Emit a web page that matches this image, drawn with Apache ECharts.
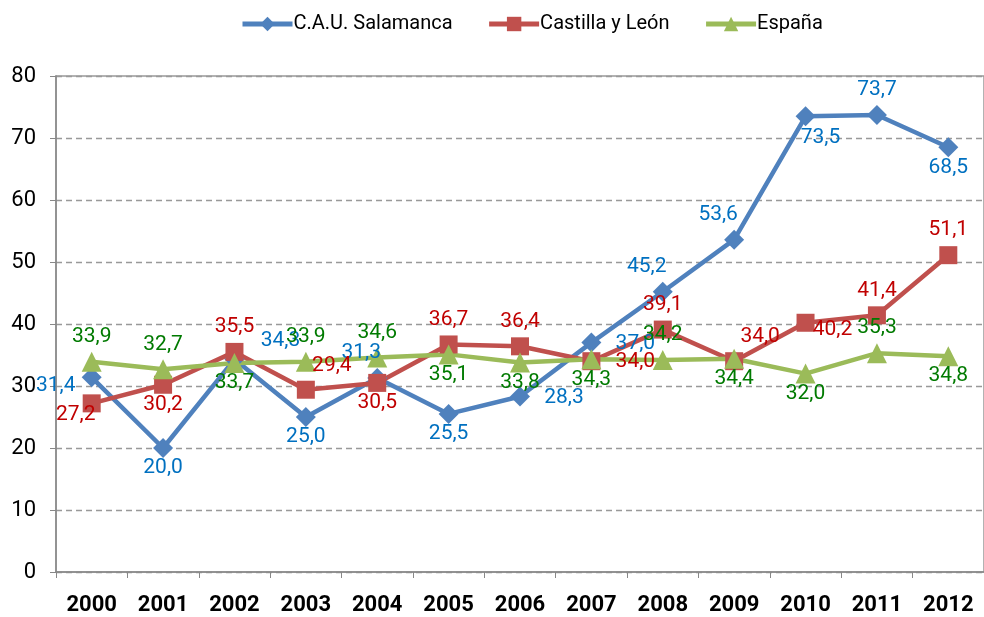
<!DOCTYPE html>
<html>
<head>
<meta charset="utf-8">
<script src="https://cdn.jsdelivr.net/npm/echarts@6/dist/echarts.min.js"></script>
<style>
  html, body { margin: 0; padding: 0; background: #fff; }
  #chart { width: 984px; height: 617px; }
</style>
</head>
<body>
<div id="chart"></div>
<script>
// años
const years = ['2000', '2001', '2002', '2003', '2004', '2005', '2006', '2007', '2008', '2009', '2010', '2011', '2012'];

const salamanca = [31.4, 20.0, 34.3, 25.0, 31.3, 25.5, 28.3, 37.0, 45.2, 53.6, 73.5, 73.7, 68.5];
const castilla  = [27.2, 30.2, 35.5, 29.4, 30.5, 36.7, 36.4, 34.0, 39.1, 34.0, 40.2, 41.4, 51.1];
const espana    = [33.9, 32.7, 33.7, 33.9, 34.6, 35.1, 33.8, 34.3, 34.2, 34.4, 32.0, 35.3, 34.8];

const yTicks = [0, 10, 20, 30, 40, 50, 60, 70, 80];

// dónde va cada etiqueta respecto a su punto
const salPos = ['lb', 'b', 'rt', 'b', 'tl', 'b', 'r', 'r', 'tl', 'tl', 'br', 't', 'b'];
const casPos = ['bl', 'b', 't', 'tr', 'b', 't', 't', 'r', 't', 'tr', 'rn', 't', 't'];
const espPos = ['t', 't', 'b', 't', 't', 'b', 'b', 'b', 't', 'b', 'b', 't', 'b'];

const FONT = "Roboto, 'Liberation Sans', sans-serif";

/** código -> desplazamiento del centro de la etiqueta */
function offsetFor(code) {
  switch (code) {
    case 't':  return [0, -25];
    case 'b':  return [0, 20];
    case 'l':  return [-40, 0];
    case 'r':  return [44, 1];
    case 'rn': return [27, 7];
    case 'tl': return [-16, -25];
    case 'tr': return [26, -24];
    case 'rt': return [46, -19];
    case 'bl': return [-16, 11];
    case 'lb': return [-36, 8];
    case 'br': return [15, 21];
    default:   return [0, -25];
  }
}

function fmt(v) {
  return v.toFixed(1).replace('.', ',');
}

function makeSeries(name, values, codes, lineColor, labelColor, symbol, symbolSize) {
  return {
    name,
    type: 'line',
    data: values.map((v, i) => ({
      value: v,
      label: { offset: offsetFor(codes[i]) }
    })),
    symbol,
    symbolSize,
    lineStyle: { color: lineColor, width: 4.5 },
    itemStyle: { color: lineColor },
    label: {
      show: true,
      position: 'inside',
      color: labelColor,
      fontFamily: FONT,
      fontSize: 21,
      formatter: p => fmt(p.value)
    },
    z: 2
  };
}

const chart = echarts.init(document.getElementById('chart'), null, { renderer: 'canvas' });

chart.setOption({
  animation: false,
  backgroundColor: '#fff',
  legend: {
    top: 9,
    left: 235,
    itemWidth: 50,
    itemHeight: 18,
    itemGap: 34,
    lineStyle: { width: 5 },
    textStyle: { fontFamily: FONT, fontSize: 20, color: '#000', padding: [0, 0, 0, -4] },
    data: ['C.A.U. Salamanca', 'Castilla y León', 'España']
  },
  grid: {
    left: 56,
    top: 76,
    width: 935,
    height: 496,
    show: true,
    borderColor: '#999',
    borderWidth: 1.5
  },
  xAxis: {
    type: 'category',
    data: years,
    boundaryGap: true,
    axisLine: { lineStyle: { color: '#888', width: 1.5 } },
    axisTick: { show: true, length: 6, lineStyle: { color: '#888' } },
    axisLabel: { color: '#000', fontFamily: FONT, fontSize: 22, fontWeight: 'bold', margin: 22 }
  },
  yAxis: {
    type: 'value',
    min: yTicks[0],
    max: yTicks[yTicks.length - 1],
    interval: 10,
    axisLine: { show: true, lineStyle: { color: '#888', width: 1.5 } },
    axisTick: { show: true, length: 6, lineStyle: { color: '#888' } },
    axisLabel: { color: '#000', fontFamily: FONT, fontSize: 22, margin: 20 },
    splitLine: { lineStyle: { color: '#999', type: [6, 4], width: 1.3 } }
  },
  series: [
    makeSeries('C.A.U. Salamanca', salamanca, salPos, '#4F81BD', '#0070C0', 'diamond', 20),
    makeSeries('Castilla y León', castilla, casPos, '#C0504D', '#C00000', 'rect', 18),
    makeSeries('España', espana, espPos, '#9BBB59', '#007A00', 'triangle', 20)
  ]
});
</script>
</body>
</html>
